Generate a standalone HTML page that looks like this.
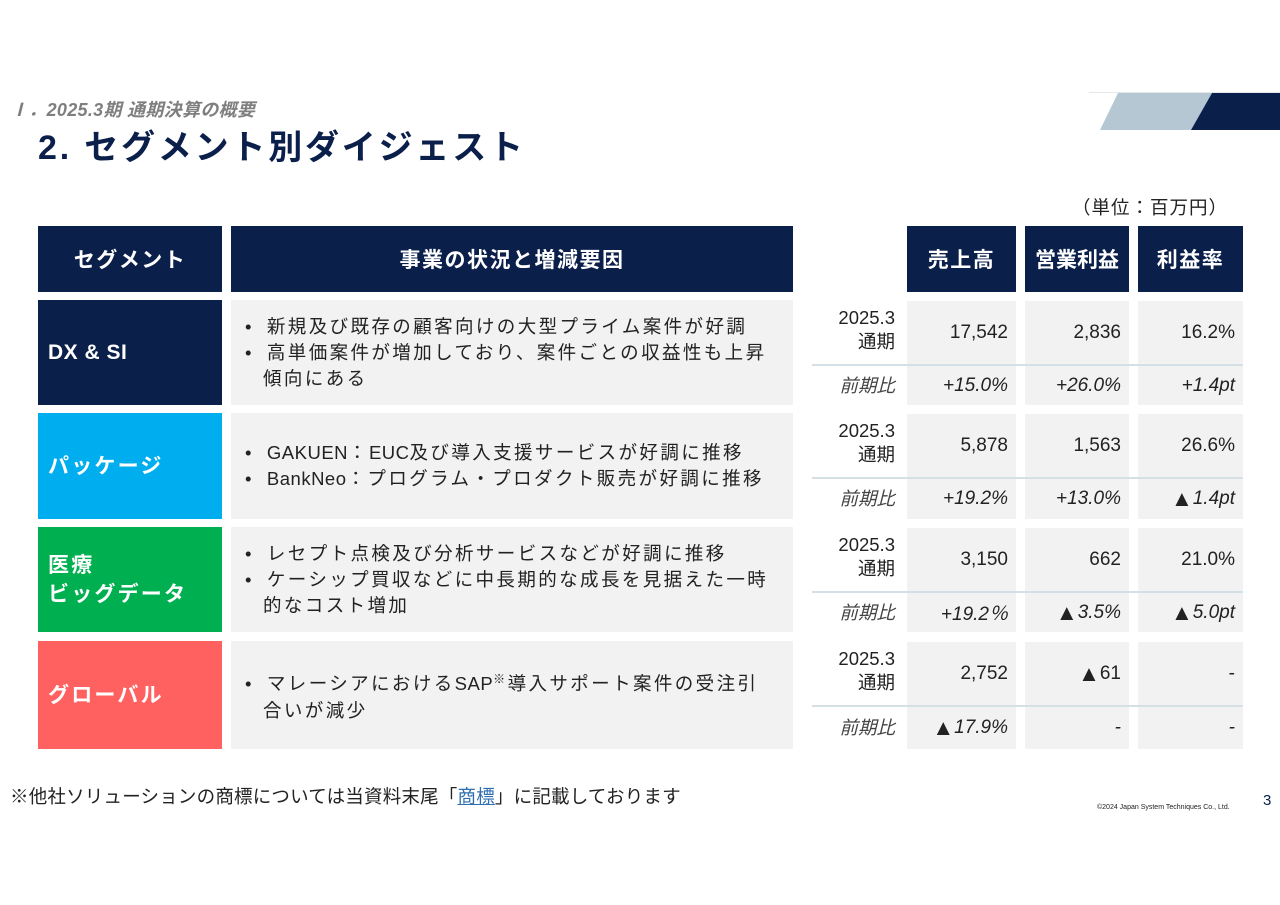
<!DOCTYPE html>
<html><head><meta charset="utf-8">
<style>
*{margin:0;padding:0;box-sizing:border-box}
body{width:1280px;height:905px;background:#fff;position:relative;overflow:hidden;font-family:"Liberation Sans","Noto Sans CJK JP",sans-serif;color:#222}
.a{position:absolute}
.hdr{background:#0b1f4b;color:#fff;font-weight:bold;font-size:21px;display:flex;align-items:center;justify-content:center;letter-spacing:1.5px}
.seg{color:#fff;font-weight:bold;font-size:21px;display:flex;align-items:center;padding-left:10px;line-height:29px;letter-spacing:2.2px}
.desc{background:#f2f2f2;font-size:18.5px;line-height:26px;display:flex;flex-direction:column;justify-content:center;padding-left:14px;letter-spacing:2.4px;white-space:nowrap}
.desc div{padding-left:18px;text-indent:-18px}
.l{letter-spacing:0.5px}
.cell{background:#f2f2f2;font-size:19px;display:flex;align-items:center;justify-content:flex-end;padding-right:8px}
.it{font-style:italic}
.lbl{font-size:18.5px;text-align:right;line-height:24px;width:90px}
.tri{font-size:22px;font-style:normal}
</style></head><body>
<div class="a" style="left:1089px;top:92px;width:191px;height:1px;background:#e4e8ec"></div>
<svg class="a" style="left:1090px;top:90px" width="190" height="42">
<polygon points="28,3 122,3 101,40 10,40" fill="#b5c7d3"/>
<polygon points="122,3 190,3 190,40 101,40" fill="#0b1f4b"/>
</svg>
<div class="a it" style="left:10px;top:96px;font-size:18px;color:#7f7f7f;font-weight:bold;letter-spacing:0.3px">Ⅰ．2025.3期 通期決算の概要</div>
<div class="a" style="left:38px;top:120px;font-size:34px;font-weight:bold;color:#0b1f4b;letter-spacing:2.8px">2. セグメント別ダイジェスト</div>
<div class="a" style="left:1072px;top:194px;font-size:18.5px;letter-spacing:1px">（単位：百万円）</div>

<div class="a hdr" style="left:38px;top:226px;width:184px;height:66px">セグメント</div>
<div class="a hdr" style="left:231px;top:226px;width:562px;height:66px">事業の状況と増減要因</div>
<div class="a hdr" style="left:907px;top:226px;width:109px;height:66px">売上高</div>
<div class="a hdr" style="left:1025px;top:226px;width:104px;height:66px;letter-spacing:0">営業利益</div>
<div class="a hdr" style="left:1138px;top:226px;width:105px;height:66px">利益率</div>

<div id="rows"></div>

<div class="a" style="left:10px;top:783px;font-size:18.5px;letter-spacing:0.2px">※他社ソリューションの商標については当資料末尾「<span style="color:#2f6fb0;text-decoration:underline">商標</span>」に記載しております</div>
<div class="a" style="left:1097px;top:804px;font-size:7px">©2024 Japan System Techniques Co., Ltd.</div>
<div class="a" style="left:1263px;top:792px;font-size:15px;color:#0b1f4b">3</div>

<script>
const segments=["<span style='letter-spacing:0.5px'>DX &amp; SI</span>","パッケージ","医療<br>ビッグデータ","グローバル"];
const segColors=["#0b1f4b","#00aeef","#00b050","#ff6161"];
const descriptions=[
["新規及び既存の顧客向けの大型プライム案件が好調","高単価案件が増加しており、案件ごとの収益性も上昇<br>傾向にある"],
["<span class='l'>GAKUEN</span>：<span class='l'>EUC</span>及び導入支援サービスが好調に推移","<span class='l'>BankNeo</span>：プログラム・プロダクト販売が好調に推移"],
["レセプト点検及び分析サービスなどが好調に推移","ケーシップ買収などに中長期的な成長を見据えた一時<br>的なコスト増加"],
["マレーシアにおける<span class='l'>SAP</span><sup style='font-size:12px'>※</sup>導入サポート案件の受注引<br>合いが減少"]];
const sales=["17,542","5,878","3,150","2,752"];
const opProfit=["2,836","1,563","662","▲61"];
const margin=["16.2%","26.6%","21.0%","-"];
const salesYoY=["+15.0%","+19.2%","+19.2％","▲17.9%"];
const opYoY=["+26.0%","+13.0%","▲3.5%","-"];
const marginYoY=["+1.4pt","▲1.4pt","▲5.0pt","-"];
const tops=[300,413,527,641];
const heights=[105,106,105,108];
const cols=[[907,109],[1025,104],[1138,105]];
const root=document.getElementById('rows');
function fmt(v){return v.replace('▲','<span class="tri">▲</span>');}
function mk(cls,style,html){const d=document.createElement('div');d.className='a '+cls;d.style.cssText=style;d.innerHTML=html;root.appendChild(d);return d;}
for(let i=0;i<segments.length;i++){
 const t=tops[i],h=heights[i],bh=h-66;
 const s=mk('seg',`left:38px;top:${t}px;width:184px;height:${h}px;background:${segColors[i]}`,segments[i]);
 
 
 const d=mk('desc',`left:231px;top:${t}px;width:562px;height:${h}px`,descriptions[i].map(x=>'<div><span style="letter-spacing:0">•&nbsp;&nbsp;&nbsp;</span>'+x+'</div>').join(''));
 
 
 const l1=mk('lbl',`left:805px;top:${t+6}px`,'2025.3<br>通期');
 
 
 const l2=mk('lbl it',`left:805px;top:${t+66+(bh-24)/2}px;color:#444`,'前期比');
 
 
 const sep=mk('',`left:812px;top:${t+64}px;width:431px;height:2px;background:#d5dfe6`,'');
 
 
 const top=[sales[i],opProfit[i],margin[i]],bot=[salesYoY[i],opYoY[i],marginYoY[i]];
 for(let c=0;c<3;c++){
  const a=mk('cell',`left:${cols[c][0]}px;top:${t+1}px;width:${cols[c][1]}px;height:63px`,fmt(top[c]));
  
  
  const b=mk('cell it',`left:${cols[c][0]}px;top:${t+66}px;width:${cols[c][1]}px;height:${bh}px`,fmt(bot[c]));
  
  
 }
}
</script>
</body></html>
